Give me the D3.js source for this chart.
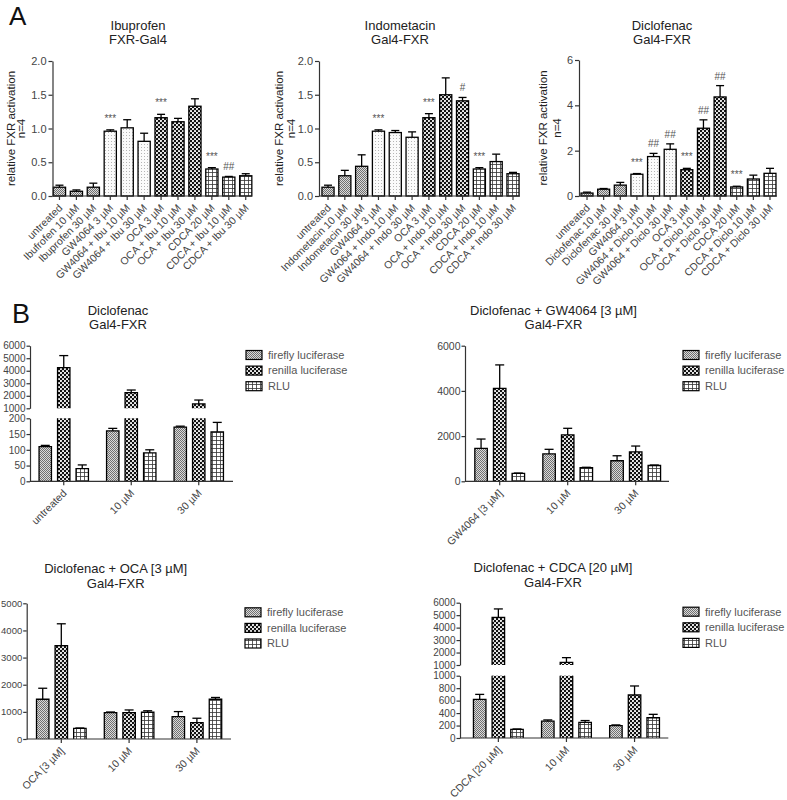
<!DOCTYPE html>
<html><head><meta charset="utf-8">
<script src="https://cdn.jsdelivr.net/npm/d3@7"></script>
<style>
body{margin:0;background:#fff}
svg{display:block}
text{font-family:"Liberation Sans",Arial,Helvetica,sans-serif}
</style>
</head><body>
<svg id="c" width="787" height="800"></svg>
<script>
// ---------- Panel A data ----------
const ibuLabels = ["untreated","Ibufrofen 10 µM","Ibuprofen 30 µM","GW4064 3 µM","GW4064 + Ibu 10 µM","GW4064 + Ibu 30 µM","OCA 3 µM","OCA + Ibu 10 µM","OCA + Ibu 30 µM","CDCA 20 µM","CDCA + Ibu 10 µM","CDCA + Ibu 30 µM"];
const ibuMeans = [0.13,0.07,0.13,0.96,1.01,0.81,1.16,1.10,1.33,0.40,0.28,0.30];
const ibuErrTop = [0.16,0.09,0.19,0.98,1.13,0.93,1.21,1.15,1.44,0.42,0.29,0.33];
const ibuSig = ["","","","***","","","***","","","***","##",""];

const indoLabels = ["untreated","Indometacin 10 µM","Indometacin 30 µM","GW4064 3 µM","GW4064 + Indo 10 µM","GW4064 + Indo 30 µM","OCA 3 µM","OCA + Indo 10 µM","OCA + Indo 30 µM","CDCA 20 µM","CDCA + Indo 10 µM","CDCA + Indo 30 µM"];
const indoMeans = [0.13,0.30,0.44,0.96,0.94,0.87,1.16,1.50,1.41,0.40,0.51,0.33];
const indoErrTop = [0.16,0.38,0.61,0.98,0.97,0.95,1.22,1.75,1.46,0.42,0.62,0.35];
const indoSig = ["","","","***","","","***","","#","***","",""];

const dicloLabels = ["untreated","Diclofenac 10 µM","Diclofenac 30 µM","GW4064 3 µM","GW4064 + Diclo 10 µM","GW4064 + Diclo 30 µM","OCA 3 µM","OCA + Diclo 10 µM","OCA + Diclo 30 µM","CDCA 20 µM","CDCA + Diclo 10 µM","CDCA + Diclo 30 µM"];
const dicloMeans = [0.13,0.30,0.48,0.96,1.74,2.06,1.16,2.99,4.37,0.40,0.75,1.00];
const dicloErrTop = [0.17,0.33,0.60,0.99,1.88,2.30,1.22,3.36,4.87,0.43,0.92,1.22];
const dicloSig = ["","","","***","##","##","***","##","##","***","",""];

const ticksA12 = [0,0.5,1.0,1.5,2.0];
const ticksA6 = [0,2,4,6];

// ---------- Panel B data ----------
const seriesNames = ["firefly luciferase","renilla luciferase","RLU"];

const b1Groups = ["untreated","10 µM","30 µM"];
const b1Firefly = [110,160,172];   const b1FireflyErr = [114,168,175];
const b1Renilla = [4250,2250,1350]; const b1RenillaErr = [5210,2460,1660];
const b1RLU = [40,90,157];          const b1RLUErr = [52,100,187];

const b2Groups = ["GW4064 [3 µM]","10 µM","30 µM"];
const b2Firefly = [1460,1210,910];  const b2FireflyErr = [1870,1415,1130];
const b2Renilla = [4110,2050,1300]; const b2RenillaErr = [5150,2345,1560];
const b2RLU = [350,600,700];        const b2RLUErr = [365,620,720];

const b3Groups = ["OCA [3 µM]","10 µM","30 µM"];
const b3Firefly = [1465,970,825];   const b3FireflyErr = [1870,995,1010];
const b3Renilla = [3440,970,600];   const b3RenillaErr = [4245,1070,765];
const b3RLU = [395,985,1465];       const b3RLUErr = [405,1040,1530];

const b4Groups = ["CDCA [20 µM]","10 µM","30 µM"];
const b4Firefly = [620,270,200];    const b4FireflyErr = [700,290,210];
const b4Renilla = [4830,1215,690];  const b4RenillaErr = [5500,1590,835];
const b4RLU = [140,250,325];        const b4RLUErr = [145,280,380];

// ---------- drawing ----------
const svg = d3.select("#c");
const defs = svg.append("defs");
function pat(id,w,h,fn){
  const p = defs.append("pattern").attr("id",id).attr("patternUnits","userSpaceOnUse").attr("width",w).attr("height",h);
  fn(p);
}
pat("pFine",2,2,p=>{
  p.append("rect").attr("width",2).attr("height",2).attr("fill","#dadada");
  p.append("rect").attr("width",1).attr("height",1).attr("fill","#707070");
  p.append("rect").attr("x",1).attr("y",1).attr("width",1).attr("height",1).attr("fill","#707070");
});
pat("pDots",3,3,p=>{
  p.append("rect").attr("width",3).attr("height",3).attr("fill","#fbfbfb");
  p.append("rect").attr("width",1).attr("height",1).attr("fill","#b5b5b5");
});
pat("pCheck",4,4,p=>{
  p.append("rect").attr("width",4).attr("height",4).attr("fill","#111");
  p.append("circle").attr("cx",1).attr("cy",1).attr("r",1.05).attr("fill","#fff");
  p.append("circle").attr("cx",3).attr("cy",3).attr("r",1.05).attr("fill","#fff");
});
pat("pGrid",4,4,p=>{
  p.append("rect").attr("width",4).attr("height",4).attr("fill","#fff");
  p.append("path").attr("d","M0,0.5H4M0.5,0V4").attr("stroke","#333").attr("stroke-width",0.8);
});
const aFills = ["url(#pFine)","url(#pDots)","url(#pCheck)","url(#pGrid)"];
const bFills = ["url(#pFine)","url(#pCheck)","url(#pGrid)"];

const AX = "#333", TXT = "#444", TTL = "#222";

function styleAxis(sel, fs){
  sel.select(".domain").attr("stroke",AX).attr("stroke-width",1.2);
  sel.selectAll(".tick line").attr("stroke",AX).attr("stroke-width",1.2);
  sel.selectAll(".tick text").attr("fill",TXT).style("font-size",fs+"px");
}

function title(lines, cx, y0, fs){
  lines.forEach((t,i)=>svg.append("text").attr("x",cx).attr("y",y0+i*14.2)
    .attr("text-anchor","middle").attr("fill",TTL).style("font-size",fs+"px").text(t));
}

function drawA(c){
  const yBot = 196;
  const x = d3.scaleBand().domain(c.labels).range([c.bandStart,c.bandEnd]).paddingInner(0.28).paddingOuter(0.14);
  const y = d3.scaleLinear().domain([0,c.max]).range([yBot,c.yTop]);
  const g = svg.append("g");
  c.labels.forEach((l,i)=>{
    const bx = x(l), bw = x.bandwidth(), cx = bx+bw/2;
    g.append("rect").attr("x",bx).attr("y",y(c.means[i])).attr("width",bw).attr("height",yBot-y(c.means[i]))
      .attr("fill",aFills[Math.floor(i/3)]).attr("stroke","#000").attr("stroke-width",1.3);
    g.append("line").attr("x1",cx).attr("x2",cx).attr("y1",y(c.means[i])).attr("y2",y(c.errs[i])).attr("stroke","#000").attr("stroke-width",1.3);
    g.append("line").attr("x1",cx-4).attr("x2",cx+4).attr("y1",y(c.errs[i])).attr("y2",y(c.errs[i])).attr("stroke","#000").attr("stroke-width",1.3);
    if(c.sig[i]){
      const star = c.sig[i].indexOf("*")>=0;
      g.append("text").attr("x",cx).attr("y",y(c.errs[i])-(star?8:6)).attr("text-anchor","middle")
        .attr("fill","#555").style("font-size","10px").text(c.sig[i]);
    }
  });
  const ya = g.append("g").attr("transform",`translate(${c.axisX},0)`)
    .call(d3.axisLeft(y).tickValues(c.ticks).tickFormat(c.fmt).tickSize(4).tickSizeOuter(0).tickPadding(2));
  styleAxis(ya, 11);
  const xa = g.append("g").attr("transform",`translate(0,${yBot})`)
    .call(d3.axisBottom(x).tickSize(4).tickSizeOuter(0));
  xa.select(".domain").remove();
  xa.append("line").attr("x1",c.axisX).attr("x2",c.axisEnd).attr("stroke",AX).attr("stroke-width",1.2);
  styleAxis(xa, 10.5);
  xa.selectAll(".tick text").attr("x",0).attr("y",0).attr("dy","0.35em")
    .attr("transform","translate(1,10) rotate(-45)").style("text-anchor","end");
  title(c.title, c.titleX, 29.5, 13);
  const ymid = (yBot+c.yTop)/2;
  svg.append("text").attr("transform",`translate(${c.yl1},${ymid}) rotate(-90)`).attr("text-anchor","middle")
    .attr("fill",TTL).style("font-size","11.5px").text("relative FXR activation");
  svg.append("text").attr("transform",`translate(${c.yl2},${ymid}) rotate(-90)`).attr("text-anchor","middle")
    .attr("fill",TTL).style("font-size","11.5px").text("n=4");
}

drawA({labels:ibuLabels, means:ibuMeans, errs:ibuErrTop, sig:ibuSig, max:2, ticks:ticksA12, fmt:d3.format(".1f"),
  axisX:52.5, axisEnd:252, bandStart:51, bandEnd:254.2, yTop:61, title:["Ibuprofen","FXR-Gal4"], titleX:138, yl1:14.5, yl2:25});
drawA({labels:indoLabels, means:indoMeans, errs:indoErrTop, sig:indoSig, max:2, ticks:ticksA12, fmt:d3.format(".1f"),
  axisX:319, axisEnd:520, bandStart:319.6, bandEnd:521.4, yTop:61, title:["Indometacin","Gal4-FXR"], titleX:400, yl1:282.5, yl2:295});
drawA({labels:dicloLabels, means:dicloMeans, errs:dicloErrTop, sig:dicloSig, max:6, ticks:ticksA6, fmt:d3.format("d"),
  axisX:579, axisEnd:777, bandStart:578.7, bandEnd:778.3, yTop:60, title:["Diclofenac","Gal4-FXR"], titleX:662, yl1:547, yl2:561});

function drawB(c){
  const g = svg.append("g");
  const x0 = d3.scaleBand().domain(c.groups).range([c.bandStart,c.bandEnd]);
  const half = x0.step()*0.411;
  const x1 = d3.scaleBand().domain(seriesNames).range([-half,half]).paddingInner(0.33).paddingOuter(0.165);
  const segs = c.segments.map(s=>({...s, y:d3.scaleLinear().domain(s.domain).range(s.range)}));
  const yBase = segs[0].range[0];
  c.groups.forEach((grp,gi)=>{
    seriesNames.forEach((sn,si)=>{
      const v = c.vals[si][gi], e = c.errs[si][gi];
      const bx = x0(grp)+x0.bandwidth()/2+x1(sn), bw = x1.bandwidth(), cx = bx+bw/2;
      segs.forEach((s,k)=>{
        const d0 = s.domain[0], d1 = s.domain[1];
        if(v > d0){
          const top = Math.min(v,d1);
          const yt = s.y(top), yb = s.y(d0);
          g.append("rect").attr("x",bx).attr("y",yt).attr("width",bw).attr("height",yb-yt).attr("fill",bFills[si]);
          let d = `M${bx},${yb}V${yt}`;
          d += (v<=d1) ? `H${bx+bw}` : `M${bx+bw},${yt}`;
          d += `V${yb}`;
          g.append("path").attr("d",d).attr("fill","none").attr("stroke","#000").attr("stroke-width",1.3);
        }
        const lo = Math.max(v,d0), hi = Math.min(e,d1);
        if(hi > lo && v < d1){
          g.append("line").attr("x1",cx).attr("x2",cx).attr("y1",s.y(lo)).attr("y2",s.y(hi)).attr("stroke","#000").attr("stroke-width",1.3);
        }
        if(e >= d0 && e <= d1 && v <= e){
          g.append("line").attr("x1",cx-4.5).attr("x2",cx+4.5).attr("y1",s.y(e)).attr("y2",s.y(e)).attr("stroke","#000").attr("stroke-width",1.3);
        }
      });
    });
  });
  segs.forEach(s=>{
    const ya = g.append("g").attr("transform",`translate(${c.axisX},0)`)
      .call(d3.axisLeft(s.y).tickValues(s.ticks).tickFormat(d3.format("d")).tickSize(3.5).tickSizeOuter(0).tickPadding(1));
    styleAxis(ya, c.tickFs);
  });
  const xa = g.append("g").attr("transform",`translate(0,${yBase})`)
    .call(d3.axisBottom(x0).tickSize(4).tickSizeOuter(0));
  xa.select(".domain").remove();
  xa.append("line").attr("x1",c.axisX).attr("x2",c.axisEnd).attr("stroke",AX).attr("stroke-width",1.2);
  styleAxis(xa, 10.5);
  xa.selectAll(".tick text").attr("x",0).attr("y",0).attr("dy","0.35em")
    .attr("transform","translate(1,10) rotate(-45)").style("text-anchor","end");
  title(c.title, c.titleX, c.titleY, 13);
  seriesNames.forEach((sn,si)=>{
    const ly = c.legY + si*15.6;
    g.append("rect").attr("x",c.legX).attr("y",ly-4.5).attr("width",16).attr("height",9)
      .attr("fill",bFills[si]).attr("stroke","#000").attr("stroke-width",1.2);
    g.append("text").attr("x",c.legX+22).attr("y",ly).attr("dy","0.35em").attr("fill","#555")
      .style("font-size","11px").text(sn);
  });
}

drawB({groups:b1Groups, vals:[b1Firefly,b1Renilla,b1RLU], errs:[b1FireflyErr,b1RenillaErr,b1RLUErr],
  segments:[{domain:[0,200],range:[481.3,418.3],ticks:[0,50,100,150,200]},{domain:[1000,6000],range:[408.3,345.7],ticks:[1000,2000,3000,4000,5000,6000]}],
  axisX:30, axisEnd:233, bandStart:30, bandEnd:232.5, tickFs:10, title:["Diclofenac","Gal4-FXR"], titleX:118, titleY:314.7, legX:246, legY:355});
drawB({groups:b2Groups, vals:[b2Firefly,b2Renilla,b2RLU], errs:[b2FireflyErr,b2RenillaErr,b2RLUErr],
  segments:[{domain:[0,6000],range:[481.3,345.7],ticks:[0,2000,4000,6000]}],
  axisX:465, axisEnd:669, bandStart:465.7, bandEnd:669.7, tickFs:10.5, title:["Diclofenac + GW4064 [3 µM]","Gal4-FXR"], titleX:553.5, titleY:315, legX:683, legY:355});
drawB({groups:b3Groups, vals:[b3Firefly,b3Renilla,b3RLU], errs:[b3FireflyErr,b3RenillaErr,b3RLUErr],
  segments:[{domain:[0,5000],range:[739,603.3],ticks:[0,1000,2000,3000,4000,5000]}],
  axisX:26.7, axisEnd:231, bandStart:27.4, bandEnd:230.8, tickFs:9.5, title:["Diclofenac + OCA [3 µM]","Gal4-FXR"], titleX:115.7, titleY:573.3, legX:245, legY:612.3});
drawB({groups:b4Groups, vals:[b4Firefly,b4Renilla,b4RLU], errs:[b4FireflyErr,b4RenillaErr,b4RLUErr],
  segments:[{domain:[0,1000],range:[738,675.7],ticks:[0,200,400,600,800,1000]},{domain:[1000,6000],range:[665,602.7],ticks:[1000,2000,3000,4000,5000,6000]}],
  axisX:460, axisEnd:668.3, bandStart:464.3, bandEnd:668.6, tickFs:10, title:["Diclofenac + CDCA [20 µM]","Gal4-FXR"], titleX:553, titleY:572.3, legX:683, legY:611.7});

// panel letters
svg.append("text").attr("x",9).attr("y",25).attr("fill","#111").style("font-size","26px").text("A");
svg.append("text").attr("x",12).attr("y",323).attr("fill","#111").style("font-size","27px").text("B");
</script>
</body></html>
